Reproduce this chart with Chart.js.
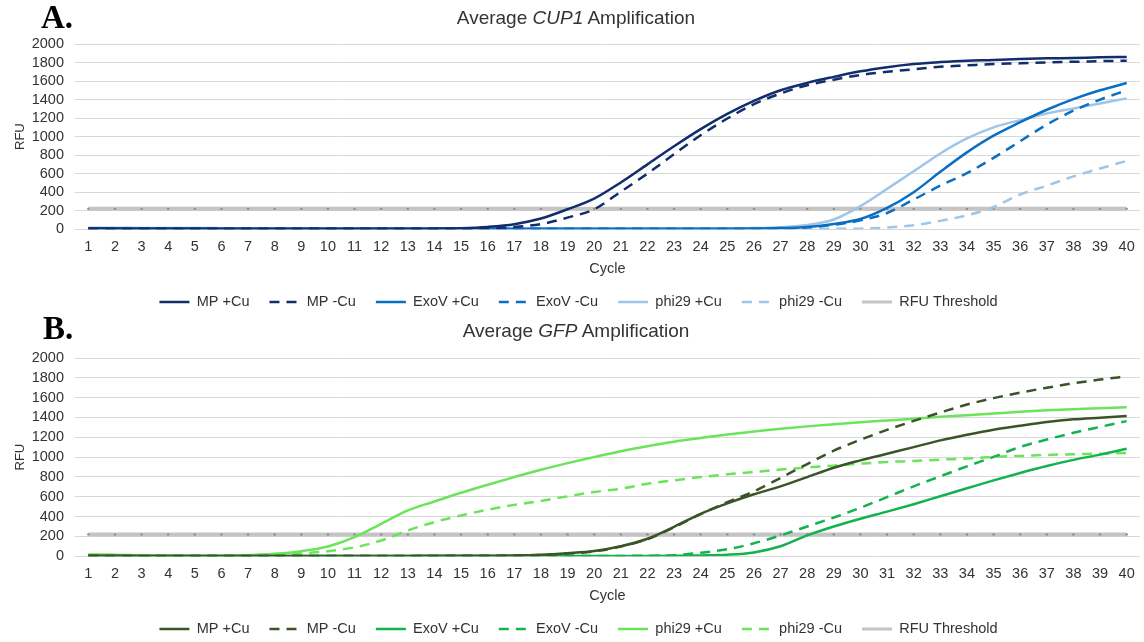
<!DOCTYPE html>
<html>
<head>
<meta charset="utf-8">
<title>Average CUP1 and GFP Amplification</title>
<script src="https://cdn.jsdelivr.net/npm/chart.js@4.4.1/dist/chart.umd.min.js"></script>
<style>
  html, body { margin: 0; padding: 0; background: #fff; overflow: hidden; }
  #page { position: relative; width: 1144px; height: 642px; overflow: hidden; }
  .panel { position: absolute; left: 0; width: 1144px; }
  .panel canvas { display: block; }
  .letter { position: absolute; font: bold 33px/33px "Liberation Serif", "Times New Roman", serif; color: #000; }
  .title { position: absolute; left: 0; width: 1152px; text-align: center; white-space: nowrap;
           font: 19px/19px "Liberation Sans", Arial, Helvetica, sans-serif; color: #333; }
</style>
</head>
<body>
<div id="page">
  <div class="panel" style="top:0;height:318px"><canvas id="cup1Chart"></canvas></div>
  <div class="panel" style="top:318px;height:327px"><canvas id="gfpChart"></canvas></div>
  <div class="letter" style="left:41px;top:1px">A.</div>
  <div class="title" style="top:8px">Average <i>CUP1</i> Amplification</div>
  <div class="letter" style="left:43px;top:312px">B.</div>
  <div class="title" style="top:321px">Average <i>GFP</i> Amplification</div>
</div>
<script>
// Average qPCR amplification curves (RFU per cycle)

const cycles = ['1', '2', '3', '4', '5', '6', '7', '8', '9', '10',
    '11', '12', '13', '14', '15', '16', '17', '18', '19', '20',
    '21', '22', '23', '24', '25', '26', '27', '28', '29', '30',
    '31', '32', '33', '34', '35', '36', '37', '38', '39', '40'];

const rfuTicks = [0, 200, 400, 600, 800, 1000, 1200, 1400, 1600, 1800, 2000];

const seriesNames = ['MP +Cu', 'MP -Cu', 'ExoV +Cu', 'ExoV -Cu', 'phi29 +Cu', 'phi29 -Cu'];

// RFU threshold (same for both panels)
const thresholdRfu = [220, 220, 220, 220, 220, 220, 220, 220, 220, 220,
    220, 220, 220, 220, 220, 220, 220, 220, 220, 220,
    220, 220, 220, 220, 220, 220, 220, 220, 220, 220,
    220, 220, 220, 220, 220, 220, 220, 220, 220, 220];

// Panel A - CUP1
const cup1MpPlus = [8, 6, 5, 5, 5, 4, 4, 4, 4, 4, 4, 4, 4, 6, 11, 25, 54, 115, 215, 330,
    505, 700, 895, 1080, 1245, 1385, 1500, 1580, 1645, 1705, 1750, 1784, 1805, 1820, 1827, 1838, 1845, 1849, 1856, 1860];
const cup1MpMinus = [6, 5, 5, 5, 5, 4, 4, 4, 4, 4, 4, 4, 4, 4, 6, 12, 25, 55, 125, 215,
    405, 600, 810, 1015, 1195, 1350, 1465, 1555, 1615, 1665, 1700, 1726, 1754, 1769, 1784, 1791, 1801, 1808, 1815, 1820];
const cup1ExoPlus = [10, 9, 8, 8, 8, 6, 5, 5, 5, 5, 5, 5, 5, 5, 5, 5, 5, 5, 5, 5,
    5, 5, 5, 5, 6, 8, 12, 25, 57, 110, 230, 400, 620, 830, 1010, 1155, 1290, 1405, 1500, 1578];
const cup1ExoMinus = [8, 7, 7, 7, 7, 5, 5, 5, 5, 5, 5, 5, 5, 5, 5, 5, 5, 5, 5, 5,
    5, 5, 5, 5, 5, 6, 10, 20, 48, 95, 175, 320, 470, 605, 770, 950, 1130, 1280, 1400, 1500];
const cup1PhiPlus = [15, 15, 14, 14, 14, 10, 8, 8, 8, 8, 8, 8, 8, 8, 8, 8, 8, 8, 8, 8,
    8, 8, 8, 8, 8, 12, 22, 45, 105, 250, 435, 625, 818, 980, 1099, 1178, 1250, 1304, 1358, 1413];
const cup1PhiMinus = [6, 6, 5, 5, 5, 4, 4, 4, 4, 4, 4, 4, 4, 4, 4, 4, 4, 4, 4, 4,
    4, 4, 4, 4, 4, 4, 4, 4, 4, 6, 18, 42, 90, 150, 240, 375, 470, 570, 656, 738];

// Panel B - GFP
const gfpMpPlus = [5, 4, 3, 3, 3, 3, 3, 3, 3, 3, 3, 3, 3, 4, 4, 5, 7, 14, 30, 52,
    100, 176, 297, 428, 533, 625, 705, 798, 893, 967, 1034, 1101, 1169, 1226, 1277, 1317, 1354, 1381, 1398, 1415];
const gfpMpMinus = [4, 3, 3, 3, 3, 3, 3, 3, 3, 3, 3, 3, 3, 3, 4, 5, 7, 13, 26, 48,
    98, 172, 292, 425, 545, 655, 790, 930, 1065, 1175, 1275, 1365, 1450, 1530, 1595, 1650, 1700, 1745, 1782, 1815];
const gfpExoPlus = [3, 3, 3, 3, 3, 3, 3, 3, 3, 3, 3, 3, 3, 3, 3, 3, 3, 3, 3, 3,
    3, 3, 4, 8, 15, 38, 100, 210, 300, 378, 450, 525, 605, 685, 765, 840, 910, 972, 1025, 1085];
const gfpExoMinus = [3, 3, 3, 3, 3, 3, 3, 3, 3, 3, 3, 3, 3, 3, 3, 3, 3, 3, 3, 3,
    3, 5, 10, 35, 70, 130, 210, 300, 390, 489, 597, 705, 806, 907, 1002, 1103, 1177, 1245, 1305, 1363];
const gfpPhiPlus = [18, 14, 10, 7, 5, 5, 10, 24, 51, 98, 192, 327, 462, 552, 640, 721, 798, 873, 939, 1000,
    1060, 1110, 1155, 1192, 1228, 1258, 1285, 1310, 1332, 1352, 1369, 1386, 1406, 1423, 1440, 1457, 1472, 1484, 1494, 1504];
const gfpPhiMinus = [10, 8, 6, 5, 4, 4, 5, 12, 28, 50, 90, 158, 260, 344, 411, 469, 518, 558, 604, 648,
    681, 732, 766, 799, 826, 850, 874, 894, 914, 934, 951, 961, 975, 985, 1002, 1012, 1022, 1029, 1035, 1042];

const cup1Colors = ['#112d6b', '#112d6b', '#0a6fc2', '#0a6fc2', '#9fc5e8', '#9fc5e8'];
const gfpColors = ['#3a5427', '#3a5427', '#12b24c', '#12b24c', '#6be35a', '#6be35a'];
const dashed = [false, true, false, true, false, true];

const LEGEND_BOX_H = 40;
const LEGEND_FONT = 14.5;

Chart.defaults.font.family = '"Liberation Sans", Arial, Helvetica, sans-serif';
Chart.defaults.color = '#333';

// Keep the legend box a fixed height and put its row where the figure has it
const legendPlacer = {
    id: 'legendPlacer',
    beforeLayout(chart) {
        const legend = chart.legend;
        if (legend && !legend._fixedFit) {
            const fit = legend.fit;
            legend.fit = function () {
                fit.call(this);
                this.height = LEGEND_BOX_H;
            };
            legend._fixedFit = true;
        }
    },
    afterLayout(chart, args, opts) {
        const legend = chart.legend;
        const pad = legend.options.labels.padding;
        const dy = opts.centerY - (legend.top + pad + LEGEND_FONT / 2);
        legend.top += dy;
        legend.bottom += dy;
        legend.left += opts.dx;
        legend.right += opts.dx;
    }
};

// Legend swatches take the dash and width of the line, not of the (hidden) points
function legendLabels(chart) {
    const items = Chart.defaults.plugins.legend.labels.generateLabels(chart);
    items.forEach(function (item) {
        const ds = chart.data.datasets[item.datasetIndex];
        item.lineDash = ds.borderDash;
        item.lineWidth = ds.legendWidth || ds.borderWidth;
        item.strokeStyle = ds.borderColor;
        item.lineCap = 'butt';
    });
    return items;
}

function buildDatasets(seriesData, colors) {
    const sets = seriesData.map(function (values, i) {
        return {
            label: seriesNames[i],
            data: values,
            borderColor: colors[i],
            backgroundColor: colors[i],
            borderWidth: 2.5,
            borderDash: dashed[i] ? [10, 7] : [],
            pointRadius: 0,
            cubicInterpolationMode: 'monotone',
            order: 0
        };
    });
    sets.push({
        label: 'RFU Threshold',
        data: thresholdRfu,
        borderColor: '#c4c4c4',
        backgroundColor: '#8c8c8c',
        borderWidth: 4,
        legendWidth: 3,
        pointRadius: 1.2,
        pointBorderWidth: 0,
        pointBackgroundColor: '#8c8c8c',
        order: 1
    });
    return sets;
}

function makeChart(canvasId, datasets, topPad, legendY) {
    const ctx = document.getElementById(canvasId).getContext('2d');
    return new Chart(ctx, {
        type: 'line',
        data: { labels: cycles, datasets: datasets },
        options: {
            responsive: true,
            maintainAspectRatio: false,
            animation: false,
            layout: { padding: { top: topPad, right: 3, bottom: 0, left: 0 } },
            plugins: {
                legend: {
                    position: 'bottom',
                    labels: {
                        usePointStyle: true,
                        pointStyle: 'line',
                        pointStyleWidth: 30,
                        padding: 20,
                        color: '#333',
                        font: { size: LEGEND_FONT },
                        generateLabels: legendLabels
                    }
                },
                tooltip: { enabled: false },
                legendPlacer: { centerY: legendY, dx: 8 }
            },
            scales: {
                x: {
                    offset: true,
                    grid: { display: false, drawTicks: false },
                    border: { display: false },
                    ticks: { autoSkip: false, maxRotation: 0, padding: 9, color: '#333', font: { size: 14.5 } },
                    title: { display: true, text: 'Cycle', color: '#333', font: { size: 14.5 }, padding: { top: -4, bottom: 0 } }
                },
                y: {
                    min: 0,
                    max: 2000,
                    afterBuildTicks: function (scale) {
                        scale.ticks = rfuTicks.map(function (v) { return { value: v }; });
                    },
                    afterFit: function (scale) { scale.width = 75; },
                    grid: { color: '#d9d9d9', lineWidth: 1, drawTicks: false },
                    border: { display: false },
                    ticks: {
                        autoSkip: false,
                        padding: 11,
                        color: '#333',
                        font: { size: 14.5 },
                        callback: function (value) { return String(value); }
                    },
                    title: { display: true, text: 'RFU', color: '#333', font: { size: 13 }, padding: { top: 13, bottom: 0 } }
                }
            }
        },
        plugins: [legendPlacer]
    });
}

makeChart('cup1Chart',
    buildDatasets([cup1MpPlus, cup1MpMinus, cup1ExoPlus, cup1ExoMinus, cup1PhiPlus, cup1PhiMinus], cup1Colors),
    44, 302);

makeChart('gfpChart',
    buildDatasets([gfpMpPlus, gfpMpMinus, gfpExoPlus, gfpExoMinus, gfpPhiPlus, gfpPhiMinus], gfpColors),
    40, 311);
</script>
</body>
</html>
